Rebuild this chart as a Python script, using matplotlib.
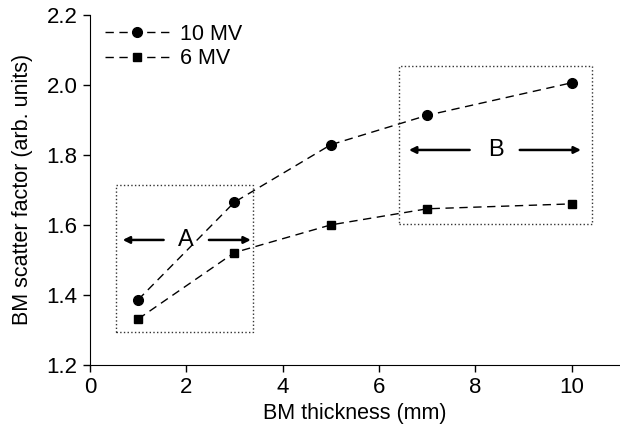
import matplotlib
matplotlib.use("Agg")
import matplotlib.pyplot as plt
from matplotlib.patches import Rectangle

plt.rcParams['font.family'] = ['Liberation Sans', 'DejaVu Sans']

thickness = [1, 3, 5, 7, 10]
sf_10mv = [1.386, 1.665, 1.829, 1.913, 2.006]
sf_6mv = [1.331, 1.521, 1.600, 1.646, 1.660]

fig = plt.figure(figsize=(6.2, 4.36), dpi=100)
ax = fig.add_axes([0.145, 0.163, 0.855, 0.803])

ax.plot(thickness, sf_10mv, 'k--', marker='o', markersize=7, lw=1,
        dashes=(6, 4), label='10 MV')
ax.plot(thickness, sf_6mv, 'k--', marker='s', markersize=6, lw=1,
        dashes=(6, 4), label='6 MV')

# region boxes
ax.add_patch(Rectangle((0.54, 1.294), 2.84, 0.42, fill=False, ls=':', lw=1, ec='#333333'))
ax.add_patch(Rectangle((6.41, 1.603), 4.0, 0.451, fill=False, ls=':', lw=1, ec='#333333'))

arrow = dict(arrowstyle='-|>', color='k', lw=1.8, mutation_scale=10, shrinkA=0, shrinkB=0)
ax.annotate('', xy=(0.68, 1.557), xytext=(1.53, 1.557), arrowprops=arrow)
ax.annotate('', xy=(3.34, 1.557), xytext=(2.47, 1.557), arrowprops=arrow)
ax.text(2.0, 1.557, 'A', fontsize=17, ha='center', va='center')
ax.annotate('', xy=(6.62, 1.814), xytext=(7.88, 1.814), arrowprops=arrow)
ax.annotate('', xy=(10.19, 1.814), xytext=(8.92, 1.814), arrowprops=arrow)
ax.text(8.42, 1.814, 'B', fontsize=17, ha='center', va='center')

ax.set_xlim(0, 11)
ax.set_ylim(1.2, 2.2)
ax.set_xticks([0, 2, 4, 6, 8, 10])
ax.set_yticks([1.2, 1.4, 1.6, 1.8, 2.0, 2.2])
ax.set_yticklabels(['1.2', '1.4', '1.6', '1.8', '2.0', '2.2'])
ax.tick_params(direction='out', length=5, width=1, labelsize=16, pad=4)
ax.spines['top'].set_visible(False)
ax.spines['right'].set_visible(False)
ax.set_xlabel('BM thickness (mm)', fontsize=15.5, labelpad=3)
ax.set_ylabel('BM scatter factor (arb. units)', fontsize=15.5, labelpad=9.5)

ax.legend(loc='upper left', bbox_to_anchor=(0.0, 1.017), frameon=False, fontsize=15.5,
          handlelength=3.0, handletextpad=0.5, labelspacing=0.15, borderaxespad=0.3)

fig.savefig('out.png', dpi=100)
